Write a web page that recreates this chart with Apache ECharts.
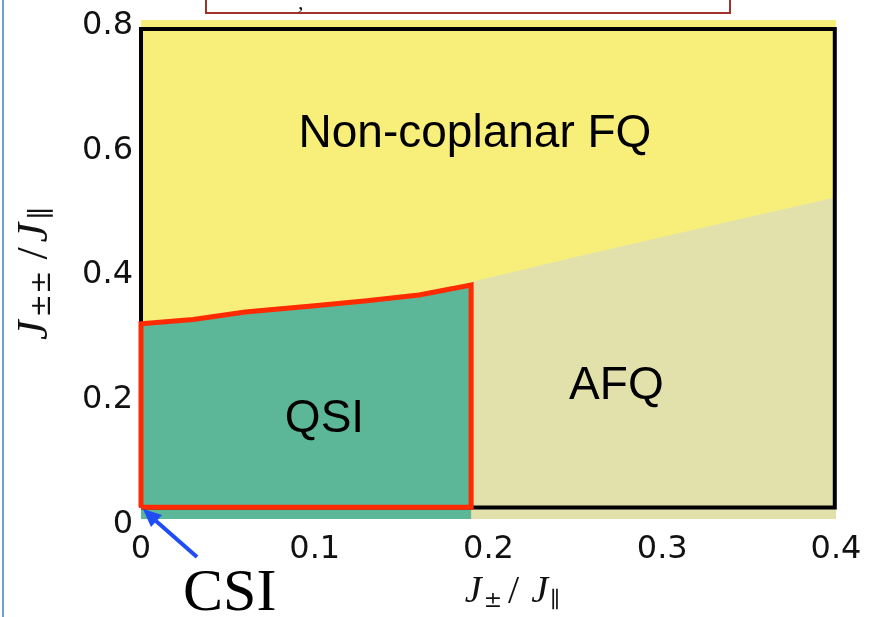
<!DOCTYPE html>
<html><head><meta charset="utf-8">
<script src="https://cdn.jsdelivr.net/npm/echarts@6/dist/echarts.min.js"></script>
<style>html,body{margin:0;padding:0;background:#fff}#c{width:875px;height:617px}</style>
</head><body><div id="c"></div>
<script>
// ---- data ----
const xTickLabels = ['0', '0.1', '0.2', '0.3', '0.4'];
const yTickLabels = ['0', '0.2', '0.4', '0.6', '0.8'];
// upper boundary of the QSI phase
const qsiTopX = [0, 0.03, 0.06, 0.10, 0.13, 0.16, 0.19];
const qsiTopY = [0.313, 0.320, 0.332, 0.342, 0.350, 0.359, 0.375];
// boundary between AFQ and non-coplanar FQ
const afqTopX = [0.19, 0.25, 0.30, 0.35, 0.40];
const afqTopY = [0.380, 0.420, 0.452, 0.484, 0.516];
const qsiOutlineBottom = 0.019;
// black frame of the original figure (data units)
const frameX = [0, 0, 0.3993, 0.3993, 0];
const frameY = [0.0185, 0.7855, 0.7855, 0.0185, 0.0185];
// phase names and where they sit
const regionNames = ['Non-coplanar FQ', 'QSI', 'AFQ'];
const regionX = [0.1922, 0.1056, 0.2736];
const regionY = [0.617, 0.160, 0.213];

// ---- build ----
const zip = (xs, ys) => xs.map((x, i) => [x, ys[i]]);
const outlineX = [0].concat(qsiTopX, [qsiTopX[qsiTopX.length - 1], 0]);
const outlineY = [qsiOutlineBottom].concat(qsiTopY, [qsiOutlineBottom, qsiOutlineBottom]);

const YELLOW = '#F8EF7B', GREEN = '#5BB798', KHAKI = '#E2E1AC';
const xRich = {
  j: { fontFamily: 'Liberation Serif', fontStyle: 'italic', fontSize: 38, lineHeight: 40, color: '#111', verticalAlign: 'middle', padding: [0, 2, 0, 0] },
  n: { fontFamily: 'Liberation Serif', fontSize: 40, lineHeight: 40, color: '#111', verticalAlign: 'middle', padding: [0, 12, 0, 6] },
  s: { fontFamily: 'DejaVu Serif', fontSize: 22, lineHeight: 20, color: '#111', verticalAlign: 'bottom' }
};
const yRich = {
  j: { fontFamily: 'Liberation Serif', fontStyle: 'italic', fontSize: 44, lineHeight: 44, color: '#111', verticalAlign: 'middle', padding: [0, 3, 0, 0] },
  n: { fontFamily: 'Liberation Serif', fontSize: 44, lineHeight: 44, color: '#111', verticalAlign: 'middle', padding: [0, 5, 0, 11] },
  s: { fontFamily: 'DejaVu Serif', fontSize: 28, lineHeight: 24, color: '#111', verticalAlign: 'bottom' }
};
const tickRich = { t: { fontSize: 32, fontFamily: 'DejaVu Sans', color: '#111', padding: [11, 0, 0, 0] } };

const chart = echarts.init(document.getElementById('c'), null, { renderer: 'canvas' });
chart.setOption({
  animation: false,
  backgroundColor: '#fff',
  grid: { left: 141, right: 39, top: 20, bottom: 98, containLabel: false, outerBoundsMode: 'none',
    show: true, backgroundColor: YELLOW, borderWidth: 0 },
  xAxis: {
    type: 'value', min: 0, max: 0.4, interval: 0.1,
    axisLine: { show: false }, axisTick: { show: false }, splitLine: { show: false },
    axisLabel: { fontSize: 32, fontFamily: 'DejaVu Sans', color: '#111', margin: 15,
      formatter: v => xTickLabels[Math.round(v / 0.1)] },
    name: '{j|J}{s|±}{n|/}{j|J}{s|∥}', nameLocation: 'middle', nameGap: 53,
    nameTextStyle: { rich: xRich, padding: [0, 0, 0, 48] }
  },
  yAxis: {
    type: 'value', min: 0, max: 0.8, interval: 0.2,
    axisLine: { show: false }, axisTick: { show: false }, splitLine: { show: false },
    axisLabel: { margin: 8, rich: tickRich,
      formatter: v => '{t|' + yTickLabels[Math.round(v / 0.2)] + '}' },
    name: '{j|J}{s|±±}{n|/}{j|J}{s|∥}', nameLocation: 'middle', nameRotate: 90, nameGap: 84,
    nameTextStyle: { rich: yRich, padding: [0, 8, 0, 0] }
  },
  series: [
    { type: 'line', z: 2, data: zip(afqTopX, afqTopY), symbol: 'none', silent: true,
      lineStyle: { width: 0 }, areaStyle: { color: KHAKI, opacity: 1 } },
    { type: 'line', z: 2, data: zip(qsiTopX, qsiTopY), symbol: 'none', silent: true,
      lineStyle: { width: 0 }, areaStyle: { color: GREEN, opacity: 1 } },
    { type: 'line', z: 3, data: zip(frameX, frameY), symbol: 'none', silent: true,
      lineStyle: { color: '#000', width: 4, join: 'miter' } },
    { type: 'line', z: 4, data: zip(outlineX, outlineY), symbol: 'none', silent: true,
      lineStyle: { color: '#FF2A00', width: 5, join: 'miter' } },
    { type: 'scatter', z: 10, data: regionNames.map((n, i) => [regionX[i], regionY[i], n]),
      symbolSize: 1, silent: true, itemStyle: { color: 'rgba(0,0,0,0)', opacity: 1 },
      label: { show: true, position: 'inside', formatter: p => p.data[2],
        fontFamily: 'Liberation Sans', fontSize: 46, color: '#000', textBorderWidth: 0 },
      labelLayout: { hideOverlap: false } }
  ],
  graphic: [
    { type: 'rect', shape: { x: 2, y: 0, width: 2, height: 617 }, style: { fill: '#6F9FD6' }, z: 100 },
    { type: 'rect', shape: { x: 206, y: -10, width: 524, height: 23 },
      style: { fill: '#fff', stroke: '#A3312B', lineWidth: 2 }, z: 100 },
    { type: 'text', style: { text: ',', x: 298, y: -8, fontSize: 22, fontFamily: 'Liberation Serif', fontStyle: 'italic', fill: '#111' }, z: 101 },
    { type: 'line', shape: { x1: 197, y1: 557, x2: 156, y2: 521 }, style: { stroke: '#1F4CF5', lineWidth: 4 }, z: 100 },
    { type: 'polygon', shape: { points: [[143, 509], [162, 515], [151, 527]] }, style: { fill: '#1F4CF5' }, z: 100 },
    { type: 'text', style: { text: 'CSI', x: 183, y: 594, fontSize: 60, fontFamily: 'Liberation Serif', fill: '#000', verticalAlign: 'middle' }, z: 100 }
  ]
});
</script></body></html>
